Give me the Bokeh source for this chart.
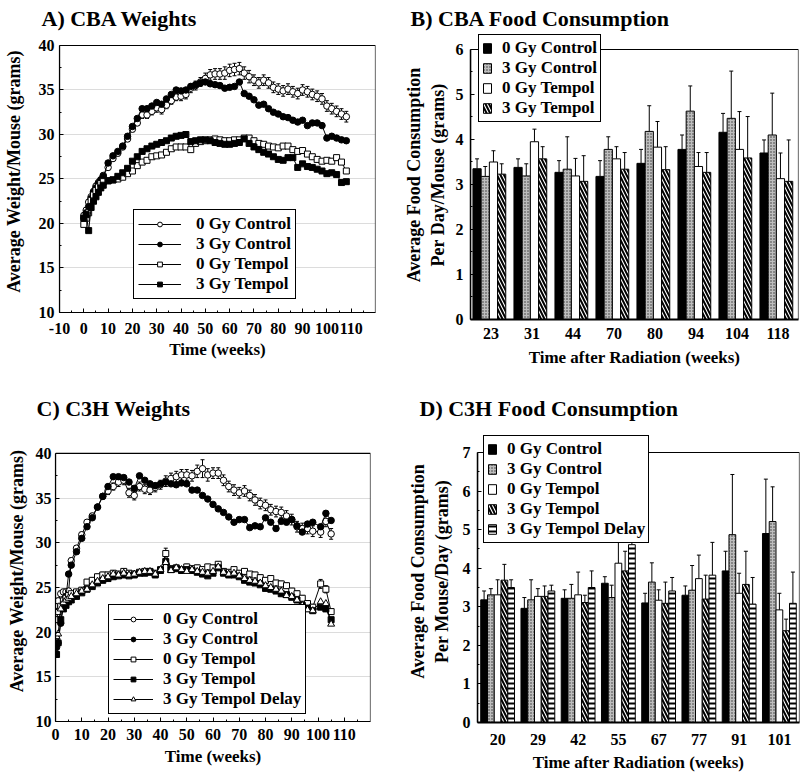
from bokeh.plotting import figure
from bokeh.models import Range1d, FactorRange, FixedTicker, Legend, LegendItem, ColumnDataSource, BoxAnnotation
from bokeh.layouts import column, row
from bokeh.transform import dodge
from bokeh.embed import file_html
from bokeh.resources import INLINE

FONT = "Liberation Serif"

# ---------------- Panel A: CBA weights ----------------
weeks_a = [0, 1, 2, 3, 4, 5, 6, 7, 8, 10, 12, 14, 16, 18, 20, 22, 24, 26, 28, 30, 32, 34, 36, 38, 40,
           42, 44, 46, 48, 50, 52, 54, 56, 58, 60, 62, 64, 66, 68, 70, 72, 74, 76, 78, 80, 82, 84, 86,
           88, 90, 92, 94, 96, 98, 100, 102, 104, 106, 108]
a_0gy_control = [20.9, 21.5, 22.4, 23.0, 23.6, 24.2, 24.6, 24.9, 25.4,
                 26.3, 27.3, 27.9, 28.6, 29.5, 30.6, 31.3, 32.2, 32.2, 32.6,
                 33.0, 32.8, 33.3, 33.8, 34.2, 34.3, 34.5, 35.2, 35.5, 35.9,
                 36.3, 36.7, 36.8, 36.8, 36.9, 37.2, 37.3, 37.4, 36.9, 36.5,
                 36.1, 35.8, 36.1, 35.8, 35.3, 35.1, 34.9, 35.1, 34.8, 34.6,
                 35.0, 34.8, 34.5, 34.3, 34.0, 33.2, 32.9, 32.6, 32.3, 32.0]
a_0gy_control_err = [0.3, 0.3, 0.3, 0.3, 0.3, 0.3, 0.3, 0.3, 0.3,
                     0.3, 0.3, 0.3, 0.3, 0.3, 0.3, 0.3, 0.4, 0.4, 0.4,
                     0.5, 0.5, 0.4, 0.4, 0.4, 0.5, 0.5, 0.5, 0.5, 0.5,
                     0.6, 0.6, 0.6, 0.6, 0.7, 0.7, 0.7, 0.7, 0.7, 0.7,
                     0.6, 0.6, 0.6, 0.6, 0.6, 0.6, 0.6, 0.6, 0.6, 0.6,
                     0.6, 0.6, 0.6, 0.6, 0.6, 0.6, 0.6, 0.6, 0.6, 0.6]
a_3gy_control = [20.6, 21.2, 21.9, 22.8, 23.5, 24.0, 24.5, 24.9, 25.3,
                 26.8, 27.6, 28.1, 28.7, 29.8, 30.9, 31.8, 32.9, 32.9, 33.2,
                 33.6, 33.4, 34.0, 34.5, 35.0, 34.9, 35.0, 35.4, 35.6, 35.8,
                 35.9, 35.7, 35.6, 35.5, 35.2, 35.3, 35.4, 35.9, 34.6, 34.3,
                 33.9, 33.3, 33.4, 32.9, 32.5, 32.3, 32.0, 31.9, 31.6, 31.4,
                 31.6, 31.0, 31.3, 31.3, 31.0, 29.6, 29.8, 29.6, 29.4, 29.3]
a_0gy_tempol = [19.9, 20.6, 21.2, 22.6, 23.2, 23.7, 24.1, 24.5, 24.7,
                24.8, 24.9, 25.0, 25.2, 25.6, 25.9, 26.5, 26.9, 27.1, 27.5,
                27.6, 27.7, 28.0, 28.4, 28.6, 28.6, 28.6, 28.3, 29.0, 29.2,
                29.3, 29.4, 29.5, 29.4, 29.3, 29.3, 29.4, 29.4, 29.6, 29.6,
                29.3, 29.0, 28.9, 28.7, 28.6, 28.5, 28.7, 28.7, 28.3, 28.1,
                28.2, 27.8, 27.5, 27.2, 27.0, 27.1, 27.0, 27.4, 26.9, 25.9]
a_3gy_tempol = [20.6, 21.0, 19.2, 21.8, 22.5, 23.0, 23.5, 24.0, 24.3,
                24.8, 24.9, 25.3, 25.7, 26.2, 27.0, 27.5, 28.1, 28.4, 28.7,
                28.9, 29.1, 29.3, 29.6, 29.8, 29.9, 30.0, 29.2, 29.3, 29.4,
                29.4, 29.3, 29.1, 29.0, 28.9, 28.9, 29.0, 29.1, 29.5, 29.0,
                28.6, 28.3, 28.0, 27.8, 27.5, 27.2, 27.1, 27.4, 27.4, 26.3,
                26.7, 26.4, 26.3, 26.1, 25.9, 25.6, 25.7, 25.5, 24.6, 24.7]

# ---------------- Panel C: C3H weights ----------------
weeks_c = [0.4, 1, 2, 3, 4, 5, 6, 8, 10, 12, 14, 16, 18, 20, 22, 24, 26, 28, 30, 32, 34, 36, 38, 40,
           42, 44, 46, 48, 50, 52, 54, 56, 58, 60, 62, 64, 66, 68, 70, 72, 74, 76, 78, 80, 82, 84, 86,
           88, 90, 92, 94, 96, 98, 101, 103, 105]
c_0gy_control = [21.9, 23.5, 24.3, 24.5, 24.5, 24.6, 28.0,
                 29.4, 30.9, 32.3, 33.0, 34.0, 35.2, 35.8, 36.3, 36.8, 37.0,
                 35.6, 35.3, 36.3, 36.0, 35.9, 36.2, 36.5, 36.9, 37.2, 37.4,
                 37.6, 37.6, 37.5, 38.0, 38.3, 37.6, 37.8, 37.8, 37.0, 36.3,
                 35.9, 35.6, 35.8, 35.3, 34.8, 34.4, 34.2, 33.7, 33.5, 33.4,
                 33.0, 32.6, 31.8, 31.6, 31.6, 31.3, 31.2, 32.4, 31.0]
c_0gy_control_err = [0.3, 0.3, 0.3, 0.3, 0.3, 0.3, 0.3,
                     0.3, 0.3, 0.3, 0.3, 0.3, 0.3, 0.4, 0.4, 0.5, 0.5,
                     0.5, 0.5, 0.5, 0.5, 0.5, 0.5, 0.5, 0.6, 0.6, 0.6,
                     0.6, 0.6, 0.6, 0.7, 1.0, 0.7, 0.6, 0.6, 0.6, 0.6,
                     0.6, 0.6, 0.6, 0.6, 0.6, 0.6, 0.6, 0.6, 0.6, 0.6,
                     0.6, 0.6, 0.6, 0.6, 0.6, 0.6, 0.6, 0.6, 0.6]
c_3gy_control = [18.3, 18.8, 21.0, 23.2, 24.0, 26.5, 27.5,
                 29.0, 30.5, 31.8, 32.8, 34.0, 35.2, 36.3, 37.4, 37.4, 37.3,
                 36.8, 36.1, 37.5, 37.0, 36.6, 36.4, 36.6, 36.8, 36.6, 36.5,
                 36.7, 36.6, 35.9, 35.9, 35.3, 34.9, 34.3, 33.8, 33.4, 32.9,
                 32.3, 32.6, 32.6, 31.7, 31.9, 31.8, 32.8, 32.3, 31.6, 32.4,
                 32.3, 32.6, 31.9, 31.2, 32.1, 32.3, 31.8, 33.3, 32.5]
c_0gy_tempol = [21.4, 22.3, 22.9, 23.5, 23.8, 24.1, 24.3,
                24.5, 24.7, 25.6, 25.8, 26.2, 26.4, 26.4, 26.6, 26.5, 26.8,
                26.6, 26.5, 26.7, 26.8, 26.8, 26.6, 27.0, 28.8, 27.1, 27.2,
                27.0, 27.3, 27.1, 27.2, 27.0, 27.3, 27.2, 27.6, 26.8, 26.7,
                27.0, 26.6, 26.8, 26.5, 26.4, 26.1, 25.8, 26.0, 25.5, 25.4,
                25.2, 24.6, 24.3, 23.8, 23.2, 22.8, 25.4, 24.8, 22.3]
c_0gy_tempol_err = [0.3, 0.3, 0.3, 0.3, 0.3, 0.3, 0.3,
                    0.3, 0.3, 0.3, 0.3, 0.3, 0.3, 0.3, 0.3, 0.3, 0.3,
                    0.3, 0.3, 0.3, 0.3, 0.3, 0.3, 0.3, 0.6, 0.3, 0.3,
                    0.3, 0.3, 0.3, 0.3, 0.3, 0.3, 0.3, 0.3, 0.3, 0.3,
                    0.3, 0.3, 0.3, 0.3, 0.3, 0.3, 0.3, 0.3, 0.3, 0.3,
                    0.3, 0.3, 0.3, 0.3, 0.3, 0.3, 0.5, 0.4, 0.3]
c_3gy_tempol = [17.5, 18.8, 21.4, 22.6, 23.0, 23.4, 23.6,
                24.0, 24.4, 24.8, 25.1, 25.5, 25.8, 26.0, 26.2, 26.3, 26.4,
                26.3, 26.4, 26.6, 26.6, 26.7, 26.4, 26.9, 27.9, 27.0, 27.1,
                26.9, 27.0, 26.9, 26.7, 26.5, 26.3, 26.6, 27.2, 26.6, 26.4,
                26.4, 26.2, 25.8, 25.6, 25.5, 25.3, 24.9, 24.8, 24.6, 24.3,
                24.2, 23.9, 23.6, 23.0, 22.7, 22.4, 22.8, 22.6, 21.4]
c_3gy_tempol_delay = [19.5, 19.8, 22.6, 23.3, 23.6, 23.8, 24.0,
                      24.3, 24.6, 24.8, 25.3, 25.7, 26.0, 26.2, 26.5, 26.4, 26.6,
                      26.4, 26.5, 26.7, 26.8, 26.8, 26.5, 27.0, 27.8, 26.9, 27.2,
                      27.0, 26.8, 27.0, 26.8, 26.7, 26.6, 26.8, 27.3, 26.7, 26.5,
                      26.6, 26.3, 26.0, 25.8, 25.7, 25.5, 25.2, 25.0, 24.8, 24.6,
                      24.1, 24.0, 23.6, 23.0, 22.5, 22.4, 23.4, 23.2, 20.9]

# ---------------- Panel B: CBA food consumption ----------------
cats_b = ["23", "31", "44", "70", "80", "94", "104", "118"]
b_0gy_control = [3.35, 3.38, 3.27, 3.18, 3.47, 3.78, 4.16, 3.70]
b_0gy_control_err = [0.22, 0.19, 0.26, 0.35, 0.31, 0.32, 0.42, 0.29]
b_3gy_control = [3.18, 3.19, 3.34, 3.78, 4.18, 4.63, 4.47, 4.10]
b_3gy_control_err = [0.22, 0.27, 0.72, 0.28, 0.57, 0.56, 1.05, 0.93]
b_0gy_tempol = [3.50, 3.95, 3.19, 3.57, 3.83, 3.40, 3.78, 3.13]
b_0gy_tempol_err = [0.25, 0.28, 0.39, 0.27, 0.57, 0.31, 0.84, 0.57]
b_3gy_tempol = [3.23, 3.57, 3.07, 3.34, 3.33, 3.27, 3.59, 3.07]
b_3gy_tempol_err = [0.23, 0.27, 0.57, 0.37, 0.51, 0.44, 0.92, 0.92]

# ---------------- Panel D: C3H food consumption ----------------
cats_d = ["20", "29", "42", "55", "67", "77", "91", "101"]
d_0gy_control = [3.18, 2.96, 3.22, 3.61, 3.10, 3.30, 3.93, 4.90]
d_0gy_control_err = [0.23, 0.28, 0.22, 0.17, 0.25, 0.24, 0.51, 1.41]
d_3gy_control = [3.31, 3.18, 3.22, 3.24, 3.64, 3.43, 4.87, 5.21]
d_3gy_control_err = [0.16, 0.52, 0.36, 0.32, 0.50, 0.64, 1.56, 0.90]
d_0gy_tempol = [3.31, 3.27, 3.31, 4.13, 3.17, 3.73, 3.35, 2.92]
d_0gy_tempol_err = [0.39, 0.20, 0.59, 0.70, 0.27, 0.61, 0.52, 0.43]
d_3gy_tempol = [3.69, 3.27, 3.11, 3.93, 3.09, 3.20, 3.58, 2.38]
d_3gy_tempol_err = [0.41, 0.27, 0.19, 0.51, 0.55, 0.62, 0.86, 0.30]
d_3gy_tempol_delay = [3.50, 3.41, 3.50, 4.61, 3.41, 3.82, 3.07, 3.09]
d_3gy_tempol_delay_err = [0.20, 0.15, 0.43, 0.35, 0.35, 0.85, 0.69, 0.81]


def style(p):
    for ax in (p.xaxis[0], p.yaxis[0]):
        ax.major_label_text_font = FONT
        ax.major_label_text_font_style = "bold"
        ax.major_label_text_font_size = "16px"
        ax.major_label_text_color = "black"
        ax.axis_label_text_font = FONT
        ax.axis_label_text_font_style = "bold"
        ax.axis_label_text_color = "black"
        ax.axis_line_color = "black"
        ax.axis_line_width = 1.2
        ax.major_tick_line_color = "black"
        ax.minor_tick_line_color = "black"
        ax.major_tick_in = 4
        ax.major_tick_out = 0
        ax.minor_tick_in = 2
        ax.minor_tick_out = 0
    p.xaxis.axis_label_text_font_size = "17px"
    p.yaxis.axis_label_text_font_size = "18px"
    p.outline_line_color = None
    p.background_fill_color = "white"
    p.border_fill_color = "white"
    p.title.text_font = FONT
    p.title.text_font_style = "bold"
    p.title.text_font_size = "22px"
    p.title.text_color = "black"
    p.title.align = "left"
    p.title.standoff = 0


def make_legend(items, loc, glyph_w, glyph_h, padding, standoff):
    return Legend(items=items, location=loc, orientation="vertical",
                  label_text_font=FONT, label_text_font_style="bold", label_text_font_size="17px",
                  label_text_color="black", glyph_width=glyph_w, glyph_height=glyph_h,
                  label_height=glyph_h, spacing=0, padding=padding, margin=0,
                  label_standoff=standoff, border_line_color="black", border_line_width=1.5,
                  border_line_alpha=1, background_fill_color="white", background_fill_alpha=1)


def weight_panel(title, weeks, series, err_series, xr, ytop, xticks, xminor, lg_loc, lg_pad,
                 borders, width, height, title_offset, glyph_w, lg_standoff,
                 xstand, xlab_stand, ystand, ylab_stand):
    l, r, t, b = borders
    p = figure(width=width, height=height, x_range=Range1d(*xr), y_range=Range1d(10, ytop),
               output_backend="svg", toolbar_location=None, title=title,
               min_border_left=l, min_border_right=r, min_border_top=t, min_border_bottom=b)
    style(p)
    p.title.offset = title_offset
    p.xaxis.ticker = FixedTicker(ticks=xticks, minor_ticks=xminor)
    p.xaxis.major_label_overrides = {-10: "-10"}
    p.yaxis.ticker = FixedTicker(ticks=[10, 15, 20, 25, 30, 35, 40],
                                 minor_ticks=[12.5, 17.5, 22.5, 27.5, 32.5, 37.5])
    p.yaxis.bounds = (10, 40)
    p.xaxis.axis_label = "Time (weeks)"
    p.yaxis.axis_label = "Average Weight/Mouse (grams)"
    p.xaxis.major_label_standoff = xstand
    p.xaxis.axis_label_standoff = xlab_stand
    p.yaxis.major_label_standoff = ystand
    p.yaxis.axis_label_standoff = ylab_stand
    p.xgrid.visible = False
    p.ygrid.grid_line_color = "#dcdcdc"
    p.ygrid.grid_line_width = 1

    p.add_layout(BoxAnnotation(bottom=10, top=40, fill_alpha=0, line_color="black",
                               line_width=1.2, line_alpha=1))

    for vals, errs in err_series:
        lo = [v - e for v, e in zip(vals, errs)]
        hi = [v + e for v, e in zip(vals, errs)]
        p.segment(x0=weeks, y0=lo, x1=weeks, y1=hi, line_color="black", line_width=1)
        p.scatter(x=weeks + weeks, y=lo + hi, marker="dash", size=4, line_color="black", line_width=1)

    items = []
    for label, vals, marker, fill, size in series:
        ln = p.line(weeks, vals, line_color="black", line_width=1)
        sc = p.scatter(weeks, vals, marker=marker, size=size, fill_color=fill,
                       line_color="black", line_width=1)
        items.append(LegendItem(label=label, renderers=[ln, sc]))

    p.add_layout(make_legend(items, lg_loc, glyph_w, 12, lg_pad, lg_standoff))
    return p


def bar_panel(title, cats, ylabel, series, bar_w, offsets, ymax, ytop, yticks, yminor, lg_loc,
              borders, width, height, title_offset, xstand, xlab_stand, ystand, ylab_stand):
    l, r, t, b = borders
    p = figure(width=width, height=height, x_range=FactorRange(factors=cats, range_padding=0),
               y_range=Range1d(0, ytop), output_backend="svg", toolbar_location=None, title=title,
               min_border_left=l, min_border_right=r, min_border_top=t, min_border_bottom=b)
    style(p)
    p.title.offset = title_offset
    p.xgrid.visible = False
    p.ygrid.visible = False
    p.yaxis.ticker = FixedTicker(ticks=yticks, minor_ticks=yminor)
    p.yaxis.bounds = (0, ymax)
    p.xaxis.major_tick_line_color = None
    p.xaxis.minor_tick_line_color = None
    p.xaxis.axis_line_width = 2
    p.yaxis.axis_line_width = 1.5
    p.xaxis.axis_label = "Time after Radiation (weeks)"
    p.yaxis.axis_label = ylabel
    p.xaxis.major_label_standoff = xstand
    p.xaxis.axis_label_standoff = xlab_stand
    p.yaxis.major_label_standoff = ystand
    p.yaxis.axis_label_standoff = ylab_stand

    p.add_layout(BoxAnnotation(bottom=0, top=ymax, fill_alpha=0, line_color="black",
                               line_width=1.2, line_alpha=1))

    items = []
    for (label, vals, errs, fill, hatch, hscale, hweight, hcolor), off in zip(series, offsets):
        top = [v + e for v, e in zip(vals, errs)]
        src = ColumnDataSource(dict(cat=cats, v=vals, e=top))
        xs = dodge("cat", off, range=p.x_range)
        p.segment(x0=xs, y0="v", x1=xs, y1="e", source=src, line_color="black", line_width=1)
        p.scatter(x=xs, y="e", source=src, marker="dash", size=4, line_color="black", line_width=1)
        rr = p.vbar(x=xs, top="v", width=bar_w, bottom=0, source=src, fill_color=fill,
                    line_color="black", line_width=1, hatch_pattern=hatch, hatch_scale=hscale,
                    hatch_weight=hweight, hatch_color=hcolor)
        items.append(LegendItem(label=label, renderers=[rr]))

    p.add_layout(make_legend(items, lg_loc, 10, 12, 3, 10))
    return p


pA = weight_panel(
    "A) CBA Weights", weeks_a,
    [("0 Gy Control", a_0gy_control, "circle", "white", 6.5),
     ("3 Gy Control", a_3gy_control, "circle", "black", 6.5),
     ("0 Gy Tempol", a_0gy_tempol, "square", "white", 6),
     ("3 Gy Tempol", a_3gy_tempol, "square", "black", 6)],
    [(a_0gy_control, a_0gy_control_err)],
    (-10, 120), 41.685, [-10, 0, 10, 20, 30, 40, 50, 60, 70, 80, 90, 100, 110],
    [-5, 5, 15, 25, 35, 45, 55, 65, 75, 85, 95, 105, 115],
    (74, 13), 4, (56, 25, 30, 78), 400, 390, -18, 43, 15,
    10, 3, 5, 12)

pC = weight_panel(
    "C) C3H Weights", weeks_c,
    [("0 Gy Control", c_0gy_control, "circle", "white", 6.5),
     ("3 Gy Control", c_3gy_control, "circle", "black", 6.5),
     ("0 Gy Tempol", c_0gy_tempol, "square", "white", 6),
     ("3 Gy Tempol", c_3gy_tempol, "square", "black", 6),
     ("3 Gy Tempol Delay", c_3gy_tempol_delay, "triangle", "white", 7)],
    [(c_0gy_control, c_0gy_control_err), (c_0gy_tempol, c_0gy_tempol_err)],
    (0, 120), 43.69, [0, 10, 20, 30, 40, 50, 60, 70, 80, 90, 100, 110],
    [5, 15, 25, 35, 45, 55, 65, 75, 85, 95, 105, 115],
    (53, 7), 4, (55, 30, 30, 57), 400, 388, -19, 40, 10,
    7, 4, 4, 6)

pB = bar_panel(
    "B) CBA Food Consumption", cats_b, "Average Food Consumption\nPer Day/Mouse (grams)",
    [("0 Gy Control", b_0gy_control, b_0gy_control_err, "black", None, 1, 1, "black"),
     ("3 Gy Control", b_3gy_control, b_3gy_control_err, "#bdbdbd", "dot", 3, 1.2, "#333333"),
     ("0 Gy Tempol", b_0gy_tempol, b_0gy_tempol_err, "white", None, 1, 1, "black"),
     ("3 Gy Tempol", b_3gy_tempol, b_3gy_tempol_err, "white", "left_diagonal_line", 7, 2, "black")],
    0.2, [-0.34, -0.14, 0.06, 0.26], 6, 6.422, [0, 1, 2, 3, 4, 5, 6],
    [0.5, 1.5, 2.5, 3.5, 4.5, 5.5],
    (8, 197), (70, 2, 30, 71), 400, 390, -60,
    8, 6, 7, 5)

pD = bar_panel(
    "D) C3H Food Consumption", cats_d, "Average Food Consumption\nPer Mouse/Day (grams)",
    [("0 Gy Control", d_0gy_control, d_0gy_control_err, "black", None, 1, 1, "black"),
     ("3 Gy Control", d_3gy_control, d_3gy_control_err, "#bdbdbd", "dot", 3, 1.2, "#333333"),
     ("0 Gy Tempol", d_0gy_tempol, d_0gy_tempol_err, "white", None, 1, 1, "black"),
     ("3 Gy Tempol", d_3gy_tempol, d_3gy_tempol_err, "white", "left_diagonal_line", 7, 2, "black"),
     ("3 Gy Tempol Delay", d_3gy_tempol_delay, d_3gy_tempol_delay_err, "white", "horizontal_line", 5, 2, "black")],
    0.168, [-0.336, -0.168, 0.0, 0.168, 0.336], 7, 7.83, [0, 1, 2, 3, 4, 5, 6, 7],
    [0.5, 1.5, 2.5, 3.5, 4.5, 5.5, 6.5],
    (6, 179), (77, 1, 30, 56), 400, 388, -58,
    11, 5, 7, 8)

layout = column(row(column(pA), column(pB)), row(column(pC), column(pD)))
open("out.html", "w").write(file_html(layout, INLINE))
